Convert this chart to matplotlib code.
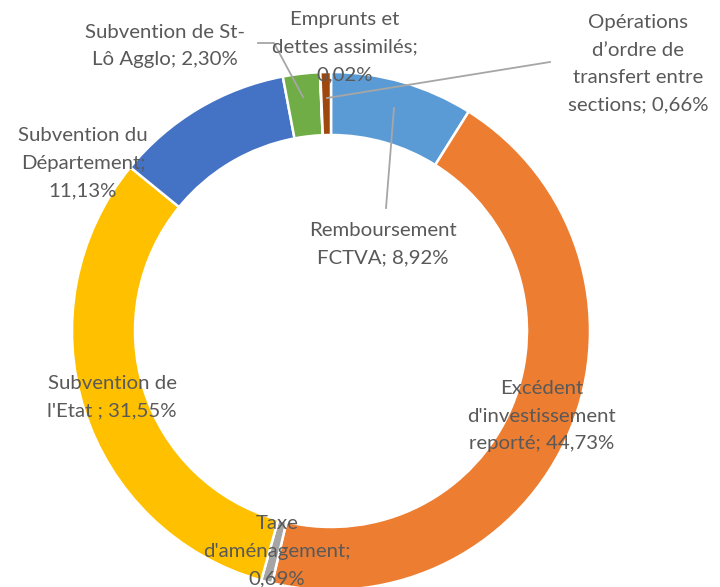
import matplotlib
matplotlib.use("Agg")
import matplotlib.pyplot as plt

labels = [
    "Remboursement\nFCTVA; 8,92%",
    "Excédent\nd'investissement\nreporté; 44,73%",
    "Taxe\nd'aménagement;\n0,69%",
    "Subvention de\nl'Etat ; 31,55%",
    "Subvention du\nDépartement;\n11,13%",
    "Subvention de St-\nLô Agglo; 2,30%",
    "Emprunts et\ndettes assimilés;\n0,02%",
    "Opérations\nd\u2019ordre de\ntransfert entre\nsections; 0,66%",
]
values = [8.92, 44.73, 0.69, 31.55, 11.13, 2.30, 0.02, 0.66]
colors = ["#5B9BD5", "#ED7D31", "#A5A5A5", "#FFC000", "#4472C4", "#70AD47", "#264478", "#9E480E"]

# label centres in pixels of the 720x587 picture
label_px = [(383, 244), (542, 416), (277, 551), (112, 397), (83, 163),
            (165, 46), (345, 47), (638, 64)]

W, H = 720, 587
CX, CY, R = 331, 331, 259


def px(x, y):
    return (x - CX) / R, (CY - y) / R


fig = plt.figure(figsize=(W / 100, H / 100), dpi=100)
ax = fig.add_axes([0, 0, 1, 1])
ax.pie(values, colors=colors, startangle=90, counterclock=False, radius=1,
       wedgeprops=dict(width=63 / R, edgecolor="white", linewidth=1.8))

# leader lines
lines = [
    [(258, 43), (274, 43), (303, 97)],
    [(327, 98), (550, 62)],
    [(394, 108), (386, 208)],
]
for pts in lines:
    xs, ys = zip(*[px(x, y) for x, y in pts])
    ax.plot(xs, ys, color="#A6A6A6", lw=1.3)

for lab, (x, y) in zip(labels, label_px):
    dx, dy = px(x, y)
    ax.text(dx, dy, lab, ha="center", va="center", fontsize=14.7, color="#595959",
            family="Lato", linespacing=1.75)

ax.set_xlim(-CX / R, (W - CX) / R)
ax.set_ylim((CY - H) / R, CY / R)
ax.set_aspect("auto")
ax.axis("off")
fig.savefig("out.png", dpi=100)
